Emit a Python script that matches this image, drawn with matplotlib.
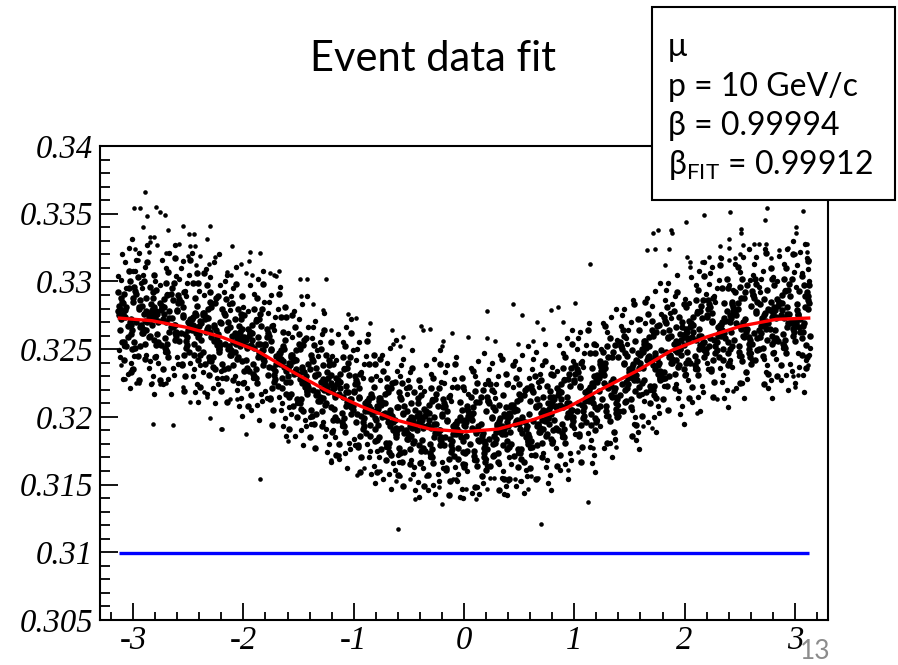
import numpy as np
import matplotlib
matplotlib.use("Agg")
import matplotlib.pyplot as plt
from matplotlib.patches import Rectangle
from matplotlib.ticker import FixedLocator, MultipleLocator

# ---------------- data ----------------
# event points: x stored in units of 0.01 rad, y stored as 0.3 + v*1e-4
# one line per 0.2-wide slice of x; two passes over the dense band
EVENT_X = """
-313 -302 -309 -305 -314 -301 -307 -311 -303 -308 -300 -312 -304 -310 -306 -302
-297 -283 -291 -288 -299 -285 -294 -281 -289 -296 -286 -292 -300 -282 -293 -287 -298 -284 -290 -295 -281 -288 -294 -286
-265 -278 -272 -262 -269 -275 -267 -280 -263 -271 -277 -264 -273 -268 -261 -279 -270 -274 -266 -276 -262 -272 -269 -277
-257 -243 -251 -248 -259 -245 -254 -241 -249 -256 -246 -252 -260 -242 -253 -247 -258 -244 -250 -255 -241 -248 -254 -246
-225 -238 -232 -222 -229 -235 -227 -240 -223 -231 -237 -224 -233 -228 -221 -239 -230 -234 -226 -236 -222 -232 -229 -237
-217 -203 -211 -208 -219 -205 -214 -201 -209 -216 -206 -212 -220 -202 -213 -207 -218 -204 -210 -215 -201 -208 -214 -206
-185 -198 -192 -182 -189 -195 -187 -200 -183 -191 -197 -184 -193 -188 -181 -199 -190 -194 -186 -196 -182 -192 -189 -197
-177 -163 -171 -168 -179 -165 -174 -161 -169 -176 -166 -172 -180 -162 -173 -167 -178 -164 -170 -175 -161 -168 -174 -166
-145 -158 -152 -142 -149 -155 -147 -160 -143 -151 -157 -144 -153 -148 -141 -159 -150 -154 -146 -156 -142 -152 -149 -157
-137 -123 -131 -128 -139 -125 -134 -121 -129 -136 -126 -132 -140 -122 -133 -127 -138 -124 -130 -135 -121 -128 -134 -126
-105 -118 -112 -102 -109 -115 -107 -120 -103 -111 -117 -104 -113 -108 -101 -119 -110 -114 -106 -116 -102 -112 -109 -117
-97 -83 -91 -88 -99 -85 -94 -81 -89 -96 -86 -92 -100 -82 -93 -87 -98 -84 -90 -95 -81 -88 -94 -86
-65 -78 -72 -62 -69 -75 -67 -80 -63 -71 -77 -64 -73 -68 -61 -79 -70 -74 -66 -76 -62 -72 -69 -77
-57 -43 -51 -48 -59 -45 -54 -41 -49 -56 -46 -52 -60 -42 -53 -47 -58 -44 -50 -55 -41 -48 -54 -46
-25 -38 -32 -22 -29 -35 -27 -40 -23 -31 -37 -24 -33 -28 -21 -39 -30 -34 -26 -36 -22 -32 -29 -37
-17 -3 -11 -8 -19 -5 -14 -1 -9 -16 -6 -12 -20 -2 -13 -7 -18 -4 -10 -15 -1 -8 -14 -6
15 2 8 18 11 5 13 0 17 9 3 16 7 12 19 1 10 6 14 4 18 8 11 3
23 37 29 32 21 35 26 39 31 24 34 28 20 38 27 33 22 36 30 25 39 32 26 34
55 42 48 58 51 45 53 40 57 49 43 56 47 52 59 41 50 46 54 44 58 48 51 43
63 77 69 72 61 75 66 79 71 64 74 68 60 78 67 73 62 76 70 65 79 72 66 74
95 82 88 98 91 85 93 80 97 89 83 96 87 92 99 81 90 86 94 84 98 88 91 83
103 117 109 112 101 115 106 119 111 104 114 108 100 118 107 113 102 116 110 105 119 112 106 114
135 122 128 138 131 125 133 120 137 129 123 136 127 132 139 121 130 126 134 124 138 128 131 123
143 157 149 152 141 155 146 159 151 144 154 148 140 158 147 153 142 156 150 145 159 152 146 154
175 162 168 178 171 165 173 160 177 169 163 176 167 172 179 161 170 166 174 164 178 168 171 163
183 197 189 192 181 195 186 199 191 184 194 188 180 198 187 193 182 196 190 185 199 192 186 194
215 202 208 218 211 205 213 200 217 209 203 216 207 212 219 201 210 206 214 204 218 208 211 203
223 237 229 232 221 235 226 239 231 224 234 228 220 238 227 233 222 236 230 225 239 232 226 234
255 242 248 258 251 245 253 240 257 249 243 256 247 252 259 241 250 246 254 244 258 248 251 243
263 277 269 272 261 275 266 279 271 264 274 268 260 278 267 273 262 276 270 265 279 272 266 274
295 282 288 298 291 285 293 280 297 289 283 296 287 292 299 281 290 286 294 284 298 288 291 283
301 312 305 309 300 313 307 303 311 306 314 302 310 304 308 312
-309 -305 -313 -302 -307 -311 -303 -308 -312 -304 -301 -310 -306 -314 -302 -308
-289 -295 -283 -300 -292 -286 -297 -281 -288 -294 -284 -291 -299 -287 -282 -296 -290 -285 -298 -293 -281 -289 -295 -284
-273 -267 -279 -262 -270 -276 -264 -271 -278 -266 -261 -274 -269 -280 -263 -272 -277 -265 -268 -275 -262 -270 -279 -267
-249 -255 -243 -260 -252 -246 -257 -241 -248 -254 -244 -251 -259 -247 -242 -256 -250 -245 -258 -253 -241 -249 -255 -244
-233 -227 -239 -222 -230 -236 -224 -231 -238 -226 -221 -234 -229 -240 -223 -232 -237 -225 -228 -235 -222 -230 -239 -227
-209 -215 -203 -220 -212 -206 -217 -201 -208 -214 -204 -211 -219 -207 -202 -216 -210 -205 -218 -213 -201 -209 -215 -204
-193 -187 -199 -182 -190 -196 -184 -191 -198 -186 -181 -194 -189 -200 -183 -192 -197 -185 -188 -195 -182 -190 -199 -187
-169 -175 -163 -180 -172 -166 -177 -161 -168 -174 -164 -171 -179 -167 -162 -176 -170 -165 -178 -173 -161 -169 -175 -164
-153 -147 -159 -142 -150 -156 -144 -151 -158 -146 -141 -154 -149 -160 -143 -152 -157 -145 -148 -155 -142 -150 -159 -147
-129 -135 -123 -140 -132 -126 -137 -121 -128 -134 -124 -131 -139 -127 -122 -136 -130 -125 -138 -133 -121 -129 -135 -124
-113 -107 -119 -102 -110 -116 -104 -111 -118 -106 -101 -114 -109 -120 -103 -112 -117 -105 -108 -115 -102 -110 -119 -107
-89 -95 -83 -100 -92 -86 -97 -81 -88 -94 -84 -91 -99 -87 -82 -96 -90 -85 -98 -93 -81 -89 -95 -84
-73 -67 -79 -62 -70 -76 -64 -71 -78 -66 -61 -74 -69 -80 -63 -72 -77 -65 -68 -75 -62 -70 -79 -67
-49 -55 -43 -60 -52 -46 -57 -41 -48 -54 -44 -51 -59 -47 -42 -56 -50 -45 -58 -53 -41 -49 -55 -44
-33 -27 -39 -22 -30 -36 -24 -31 -38 -26 -21 -34 -29 -40 -23 -32 -37 -25 -28 -35 -22 -30 -39 -27
-9 -15 -3 -20 -12 -6 -17 -1 -8 -14 -4 -11 -19 -7 -2 -16 -10 -5 -18 -13 -1 -9 -15 -4
7 13 1 18 10 4 16 9 2 14 19 6 11 0 17 8 3 15 12 5 18 10 1 13
31 25 37 20 28 34 23 39 32 26 36 29 21 33 38 24 30 35 22 27 39 31 25 36
47 53 41 58 50 44 56 49 42 54 59 46 51 40 57 48 43 55 52 45 58 50 41 53
71 65 77 60 68 74 63 79 72 66 76 69 61 73 78 64 70 75 62 67 79 71 65 76
87 93 81 98 90 84 96 89 82 94 99 86 91 80 97 88 83 95 92 85 98 90 81 93
111 105 117 100 108 114 103 119 112 106 116 109 101 113 118 104 110 115 102 107 119 111 105 116
127 133 121 138 130 124 136 129 122 134 139 126 131 120 137 128 123 135 132 125 138 130 121 133
151 145 157 140 148 154 143 159 152 146 156 149 141 153 158 144 150 155 142 147 159 151 145 156
167 173 161 178 170 164 176 169 162 174 179 166 171 160 177 168 163 175 172 165 178 170 161 173
191 185 197 180 188 194 183 199 192 186 196 189 181 193 198 184 190 195 182 187 199 191 185 196
207 213 201 218 210 204 216 209 202 214 219 206 211 200 217 208 203 215 212 205 218 210 201 213
231 225 237 220 228 234 223 239 232 226 236 229 221 233 238 224 230 235 222 227 239 231 225 236
247 253 241 258 250 244 256 249 242 254 259 246 251 240 257 248 243 255 252 245 258 250 241 253
271 265 277 260 268 274 263 279 272 266 276 269 261 273 278 264 270 275 262 267 279 271 265 276
287 293 281 298 290 284 296 289 282 294 299 286 291 280 297 288 283 295 292 285 298 290 281 293
305 309 301 312 307 303 311 306 302 310 313 304 308 300 312 306
"""

EVENT_Y = """
275 268 284 259 292 250 279 272 300 242 288 264 308 255 281 233
270 279 262 288 255 296 266 275 243 303 259 282 235 292 268 314 251 272 300 227 281 264 286 277
273 261 281 268 290 253 278 244 299 258 271 286 235 307 263 294 249 282 266 227 317 276 254 270
262 275 253 269 284 246 292 259 266 238 299 251 278 306 230 272 256 288 264 281 242 316 219 274
264 257 273 248 281 239 268 261 289 231 277 253 297 244 270 222 285 263 235 306 250 266 259 275
254 263 246 272 239 280 250 259 227 287 243 266 219 276 252 298 235 256 284 211 265 248 270 261
254 242 262 249 271 234 259 225 280 239 252 267 216 288 244 275 230 263 247 208 298 257 235 251
237 250 228 244 259 221 267 234 241 213 274 226 253 281 205 247 231 263 239 256 217 291 194 249
233 226 242 217 250 208 237 230 258 200 246 222 266 213 239 191 254 232 204 275 219 235 228 244
220 229 212 238 205 246 216 225 193 253 209 232 185 242 218 264 201 222 250 177 231 214 236 227
218 206 226 213 235 198 223 189 244 203 216 231 180 252 208 239 194 227 211 172 262 221 199 215
202 215 193 209 224 186 232 199 206 178 239 191 218 246 170 212 196 228 204 221 182 256 159 214
201 194 210 185 218 176 205 198 226 168 214 190 234 181 207 159 222 200 172 243 187 203 196 212
192 201 184 210 177 218 188 197 165 225 181 204 157 214 190 236 173 194 222 149 203 186 208 199
195 183 203 190 212 175 200 166 221 180 193 208 157 229 185 216 171 204 188 149 239 198 176 192
185 198 176 192 207 169 215 182 189 161 222 174 201 229 153 195 179 211 187 204 165 239 142 197
195 186 203 170 211 180 190 163 220 175 206 156 198 225 167 193 148 215 182 201 173 234 188 208
184 201 189 209 176 216 180 196 167 224 187 205 161 232 172 199 212 154 193 220 182 146 207 243
196 189 205 180 213 171 200 193 221 163 209 185 229 176 202 154 217 195 167 238 182 198 191 207
197 206 189 215 182 223 193 202 170 230 186 209 162 219 195 241 178 199 227 154 208 191 213 204
210 198 218 205 227 190 215 181 236 195 208 223 172 244 200 231 186 219 203 164 254 213 191 207
210 223 201 217 232 194 240 207 214 186 247 199 226 254 178 220 204 236 212 229 190 264 167 222
228 219 236 203 244 213 223 196 253 208 239 189 231 258 200 226 181 248 215 234 206 267 221 241
224 241 229 249 216 256 220 236 207 264 227 245 201 272 212 239 252 194 233 260 222 186 247 283
243 236 252 227 260 218 247 240 268 210 256 232 276 223 249 201 264 242 214 285 229 245 238 254
248 257 240 266 233 274 244 253 221 281 237 260 213 270 246 292 229 250 278 205 259 242 264 255
260 248 268 255 277 240 265 231 286 245 258 273 222 294 250 281 236 269 253 214 304 263 241 257
258 271 249 265 280 242 288 255 262 234 295 247 274 302 226 268 252 284 260 277 238 312 215 270
272 263 280 247 288 257 267 240 297 252 283 233 275 302 244 270 225 292 259 278 250 311 265 285
262 279 267 287 254 294 258 274 245 302 265 283 239 310 250 277 290 232 271 298 260 224 285 321
276 264 284 271 293 256 281 247 302 261 274 289 238 310 266 297 252 285 269 230 320 279 257 273
271 280 263 289 256 297 267 276 244 304 260 283 236 293 269 315
276 267 282 261 274 288 270 255 280 295 264 285 252 278 272 291
271 280 268 285 262 274 291 257 278 252 283 265 296 270 288 245 276 260 293 267 305 254 281 272
272 263 278 257 270 284 266 251 276 291 260 281 248 274 268 287 255 295 244 279 262 299 253 273
265 274 262 279 256 268 285 251 272 246 277 259 290 264 282 239 270 254 287 261 299 248 275 266
265 256 271 250 263 277 259 244 269 284 253 274 241 267 261 280 248 288 237 272 255 292 246 266
255 264 252 269 246 258 275 241 262 236 267 249 280 254 272 229 260 244 277 251 289 238 265 256
253 244 259 238 251 265 247 232 257 272 241 262 229 255 249 268 236 276 225 260 243 280 234 254
240 249 237 254 231 243 260 226 247 221 252 234 265 239 257 214 245 229 262 236 274 223 250 241
234 225 240 219 232 246 228 213 238 253 222 243 210 236 230 249 217 257 206 241 224 261 215 235
221 230 218 235 212 224 241 207 228 202 233 215 246 220 238 195 226 210 243 217 255 204 231 222
217 208 223 202 215 229 211 196 221 236 205 226 193 219 213 232 200 240 189 224 207 244 198 218
205 214 202 219 196 208 225 191 212 186 217 199 230 204 222 179 210 194 227 201 239 188 215 206
202 193 208 187 200 214 196 181 206 221 190 211 178 204 198 217 185 225 174 209 192 229 183 203
193 202 190 207 184 196 213 179 200 174 205 187 218 192 210 167 198 182 215 189 227 176 203 194
194 185 200 179 192 206 188 173 198 213 182 203 170 196 190 209 177 217 166 201 184 221 175 195
188 197 185 202 179 191 208 174 195 169 200 182 213 187 205 162 193 177 210 184 222 171 198 189
192 183 198 177 190 204 186 171 196 211 180 201 168 194 188 207 175 215 164 199 182 219 173 193
190 199 187 204 181 193 210 176 197 171 202 184 215 189 207 164 195 179 212 186 224 173 200 191
197 188 203 182 195 209 191 176 201 216 185 206 173 199 193 212 180 220 169 204 187 224 178 198
198 207 195 212 189 201 218 184 205 179 210 192 223 197 215 172 203 187 220 194 232 181 208 199
209 200 215 194 207 221 203 188 213 228 197 218 185 211 205 224 192 232 181 216 199 236 190 210
213 222 210 227 204 216 233 199 220 194 225 207 238 212 230 187 218 202 235 209 247 196 223 214
225 216 231 210 223 237 219 204 229 244 213 234 201 227 221 240 208 248 197 232 215 252 206 226
230 239 227 244 221 233 250 216 237 211 242 224 255 229 247 204 235 219 252 226 264 213 240 231
244 235 250 229 242 256 238 223 248 263 232 253 220 246 240 259 227 267 216 251 234 271 225 245
249 258 246 263 240 252 269 235 256 230 261 243 274 248 266 223 254 238 271 245 283 232 259 250
259 250 265 244 257 271 253 238 263 278 247 268 235 261 255 274 242 282 231 266 249 286 240 260
261 270 258 275 252 264 281 247 268 242 273 255 286 260 278 235 266 250 283 257 295 244 271 262
269 260 275 254 267 281 263 248 273 288 257 278 245 271 265 284 252 292 241 276 259 296 250 270
268 277 265 282 259 271 288 254 275 249 280 262 293 267 285 242 273 257 290 264 302 251 278 269
275 266 281 260 273 287 269 254 279 294 263 284 251 277 271 290 258 298 247 282 265 302 256 276
272 281 269 286 263 275 292 258 279 253 284 266 297 271 289 246
"""

# wider halo around the band, same units, one line per slice
HALO_X = """
-311 -302 -307 -313 -304 -309 -300 -312 -306 -301 -310 -303 -314 -308 -301 -305
-288 -298 -282 -292 -285 -295 -300 -289 -281 -293 -286 -297 -284 -291 -299 -287
-276 -264 -270 -279 -267 -273 -261 -277 -269 -263 -274 -266 -280 -271 -262 -268
-248 -258 -242 -252 -245 -255 -260 -249 -241 -253 -246 -257 -244 -251 -259 -247
-236 -224 -230 -239 -227 -233 -221 -237 -229 -223 -234 -226 -240 -231 -222 -228
-208 -218 -202 -212 -205 -215 -220 -209 -201 -213 -206 -217 -204 -211 -219 -207
-196 -184 -190 -199 -187 -193 -181 -197 -189 -183 -194 -186 -200 -191 -182 -188
-168 -178 -162 -172 -165 -175 -180 -169 -161 -173 -166 -177 -164 -171 -179 -167
-156 -144 -150 -159 -147 -153 -141 -157 -149 -143 -154 -146 -160 -151 -142 -148
-128 -138 -122 -132 -125 -135 -140 -129 -121 -133 -126 -137 -124 -131 -139 -127
-116 -104 -110 -119 -107 -113 -101 -117 -109 -103 -114 -106 -120 -111 -102 -108
-88 -98 -82 -92 -85 -95 -100 -89 -81 -93 -86 -97 -84 -91 -99 -87
-76 -64 -70 -79 -67 -73 -61 -77 -69 -63 -74 -66 -80 -71 -62 -68
-48 -58 -42 -52 -45 -55 -60 -49 -41 -53 -46 -57 -44 -51 -59 -47
-36 -24 -30 -39 -27 -33 -21 -37 -29 -23 -34 -26 -40 -31 -22 -28
-8 -18 -2 -12 -5 -15 -20 -9 -1 -13 -6 -17 -4 -11 -19 -7
4 16 10 1 13 7 19 3 11 17 6 14 0 9 18 12
32 22 38 28 35 25 20 31 39 27 34 23 36 29 21 33
44 56 50 41 53 47 59 43 51 57 46 54 40 49 58 52
72 62 78 68 75 65 60 71 79 67 74 63 76 69 61 73
84 96 90 81 93 87 99 83 91 97 86 94 80 89 98 92
112 102 118 108 115 105 100 111 119 107 114 103 116 109 101 113
124 136 130 121 133 127 139 123 131 137 126 134 120 129 138 132
152 142 158 148 155 145 140 151 159 147 154 143 156 149 141 153
164 176 170 161 173 167 179 163 171 177 166 174 160 169 178 172
192 182 198 188 195 185 180 191 199 187 194 183 196 189 181 193
204 216 210 201 213 207 219 203 211 217 206 214 200 209 218 212
232 222 238 228 235 225 220 231 239 227 234 223 236 229 221 233
244 256 250 241 253 247 259 243 251 257 246 254 240 249 258 252
272 262 278 268 275 265 260 271 279 267 274 263 276 269 261 273
284 296 290 281 293 287 299 283 291 297 286 294 280 289 298 292
303 312 307 301 310 305 314 302 308 313 304 311 300 306 313 309
"""

HALO_Y = """
301 240 314 249 325 228 308 244 295 235 320 221 304 252 331 232
246 308 230 295 241 321 250 311 217 299 236 316 224 305 245 327
297 236 310 245 321 224 304 240 291 231 316 217 300 248 327 228
240 302 224 289 235 315 244 305 211 293 230 310 218 299 239 321
290 229 303 238 314 217 297 233 284 224 309 210 293 241 320 221
230 292 214 279 225 305 234 295 201 283 220 300 208 289 229 311
278 217 291 226 302 205 285 221 272 212 297 198 281 229 308 209
215 277 199 264 210 290 219 280 186 268 205 285 193 274 214 296
259 198 272 207 283 186 266 202 253 193 278 179 262 210 289 190
196 258 180 245 191 271 200 261 167 249 186 266 174 255 195 277
242 181 255 190 266 169 249 185 236 176 261 162 245 193 272 173
180 242 164 229 175 255 184 245 151 233 170 250 158 239 179 261
227 166 240 175 251 154 234 170 221 161 246 147 230 178 257 158
168 230 152 217 163 243 172 233 141 221 158 238 146 227 167 249
219 158 232 167 243 146 226 162 213 153 238 143 222 170 249 150
163 225 147 212 158 238 167 228 140 216 153 233 141 222 162 244
217 156 230 165 241 144 224 160 211 151 236 143 220 168 247 148
165 227 149 214 160 240 169 230 142 218 155 235 143 224 164 246
222 161 235 170 246 149 229 165 216 156 241 144 225 173 252 153
173 235 157 222 168 248 177 238 146 226 163 243 151 232 172 254
234 173 247 182 258 161 241 177 228 168 253 154 237 185 264 165
188 250 172 237 183 263 192 253 159 241 178 258 166 247 187 269
250 189 263 198 274 177 257 193 244 184 269 170 253 201 280 181
205 267 189 254 200 280 209 270 176 258 195 275 183 264 204 286
269 208 282 217 293 196 276 212 263 203 288 189 272 220 299 200
224 286 208 273 219 299 228 289 195 277 214 294 202 283 223 305
284 223 297 232 308 211 291 227 278 218 303 204 287 235 314 215
236 298 220 285 231 311 240 301 207 289 226 306 214 295 235 317
294 233 307 242 318 221 301 237 288 228 313 214 297 245 324 225
243 305 227 292 238 318 247 308 214 296 233 313 221 302 242 324
300 239 313 248 324 227 307 243 294 234 319 220 303 251 330 231
247 309 231 296 242 322 251 312 218 300 237 317 225 306 246 328
"""

# sparse points, read one by one: (x*100, (y-0.3)*1e4)
SPARSE_UPPER_LEFT = [
    (-289, 366), (-299, 354), (-294, 354), (-279, 355), (-276, 351), (-271, 349),
    (-287, 348), (-291, 340), (-268, 338), (-255, 341), (-230, 341), (-249, 335),
    (-245, 335), (-233, 331), (-285, 333), (-281, 333), (-285, 329), (-258, 328),
    (-278, 327), (-210, 326), (-248, 326), (-244, 326), (-298, 324), (-286, 322),
    (-270, 321), (-194, 322), (-185, 321), (-250, 319), (-239, 319), (-226, 318),
    (-296, 316), (-202, 313), (-195, 315), (-243, 312), (-231, 313), (-168, 308),
    (-176, 306), (-172, 305), (-170, 304), (-149, 302), (-142, 302), (-125, 302),
    (-215, 307), (-211, 305), (-198, 306), (-192, 305),
]
SPARSE_UPPER_RIGHT = [
    (275, 354), (307, 352), (241, 351), (218, 349), (201, 344), (273, 345),
    (171, 336), (176, 338), (188, 338), (189, 336), (251, 339), (251, 336),
    (301, 340), (301, 336), (240, 331), (114, 313), (166, 323), (173, 324),
    (186, 324), (182, 312), (202, 318), (232, 326), (240, 325), (253, 327),
    (263, 328), (267, 328), (274, 328), (311, 328), (294, 325), (286, 323),
    (278, 317), (205, 314), (205, 311), (216, 314), (222, 318), (232, 318),
    (240, 316), (246, 317), (250, 320), (300, 320), (311, 322), (313, 316),
]
SPARSE_UPPER_MIDDLE = [
    (44, 283), (21, 278), (101, 284), (79, 279), (85, 281), (53, 275),
    (66, 270), (72, 265), (90, 270), (-65, 264), (-39, 267), (-37, 264),
    (-31, 265), (-11, 262), (4, 259), (28, 256), (21, 258), (-55, 259),
    (-58, 252), (-64, 254), (-19, 256), (-20, 252), (49, 254), (63, 256),
    (-148, 289), (-137, 283), (-98, 273), (-121, 264), (-85, 269),
    (-128, 279), (-105, 276),
]
SPARSE_LOWER = [
    (-60, 117), (-44, 139), (-20, 136), (11, 139), (70, 121), (112, 137),
    (58, 147), (21, 147), (2, 147), (-23, 148), (-97, 157), (-121, 168),
    (-113, 172), (-10, 154), (-7, 154), (-62, 153), (-58, 156), (-49, 154),
    (-34, 156), (24, 155), (27, 155), (40, 153), (46, 154), (51, 153),
    (61, 156), (67, 155), (-76, 160), (-91, 162), (94, 161), (103, 174),
    (84, 164),
    (138, 178), (137, 183), (117, 177), (211, 203), (229, 213), (244, 219),
    (300, 222), (312, 238), (298, 230), (303, 231), (170, 192), (162, 193),
    (-282, 195), (-264, 194), (-230, 199), (-220, 191), (-198, 187), (-185, 154),
    (-160, 182), (-248, 211), (-295, 225), (-283, 225), (-276, 224), (-270, 225),
    (-255, 222), (-233, 215), (-236, 218), (-212, 213), (-206, 213), (-307, 228),
    (-297, 225), (-311, 238), (-219, 191),
]

# fitted curve (red)
FIT_X = [-3.14, -2.83, -2.51, -2.20, -1.88, -1.57, -1.26, -0.94, -0.63, -0.31, 0.0,
         0.31, 0.63, 0.94, 1.26, 1.57, 1.88, 2.20, 2.51, 2.83, 3.14]
FIT_Y = [0.3273, 0.3271, 0.3266, 0.3259, 0.3249, 0.3234, 0.3220, 0.3208, 0.3198, 0.3191, 0.3189,
         0.3191, 0.3198, 0.3207, 0.3221, 0.3234, 0.3249, 0.3259, 0.3267, 0.3272, 0.3273]

# reference level (blue)
BASE_X = [-3.13, 3.13]
BASE_Y = [0.30993, 0.30993]

XTICKS = [-3, -2, -1, 0, 1, 2, 3]
XTICK_LABELS = ["-3", "-2", "-1", "0", "1", "2", "3"]
YTICKS = [0.305, 0.31, 0.315, 0.32, 0.325, 0.33, 0.335, 0.34]
YTICK_LABELS = ["0.305", "0.31", "0.315", "0.32", "0.325", "0.33", "0.335", "0.34"]

TITLE = "Event data fit"
INFO_LINES = ["μ", "p = 10 GeV/c", "β = 0.99994", r"$\mathregular{β_{FIT}}$ = 0.99912"]
PAGE = "13"

# ---------------- assemble points ----------------
def parse(block):
    return [list(map(int, ln.split())) for ln in block.strip().splitlines()]

def pair_blocks(bx, by):
    xs, ys = [], []
    for lx, ly in zip(parse(bx), parse(by)):
        n = min(len(lx), len(ly))
        xs += lx[:n]
        ys += ly[:n]
    return np.array(xs) / 100.0, 0.3 + np.array(ys) * 1e-4

cx, cy = pair_blocks(EVENT_X, EVENT_Y)
hx, hy = pair_blocks(HALO_X, HALO_Y)

sp_x, sp_y = [], []
for grp in (SPARSE_UPPER_LEFT, SPARSE_UPPER_RIGHT, SPARSE_UPPER_MIDDLE, SPARSE_LOWER):
    sp_x += [p[0] for p in grp]
    sp_y += [p[1] for p in grp]
sx = np.array(sp_x) / 100.0
sy = 0.3 + np.array(sp_y) * 1e-4

# ---------------- figure ----------------
W, H = 898, 665
fig = plt.figure(figsize=(W / 100, H / 100), dpi=100)
fig.patch.set_facecolor("white")

ax = fig.add_axes([100 / W, 45 / H, 728 / W, 474 / H])
ax.plot(cx, cy, "o", ms=4.7, color="black", mew=0, zorder=2)
ax.plot(hx, hy, "o", ms=3.9, color="black", mew=0, zorder=2)
ax.plot(sx, sy, "o", ms=3.3, color="black", mew=0, zorder=2)
ax.plot(FIT_X, FIT_Y, color="#ff0000", lw=2.4, zorder=3, solid_capstyle="butt")
ax.plot(BASE_X, BASE_Y, color="#0000ff", lw=2.4, zorder=3, solid_capstyle="butt")

ax.set_xlim(-3.3, 3.3)
ax.set_ylim(0.305, 0.34)
ax.xaxis.set_major_locator(FixedLocator(XTICKS))
ax.xaxis.set_minor_locator(MultipleLocator(0.2))
ax.yaxis.set_major_locator(FixedLocator(YTICKS))
ax.yaxis.set_minor_locator(MultipleLocator(0.001))
ax.set_xticklabels(XTICK_LABELS)
ax.set_yticklabels(YTICK_LABELS)

for lab in ax.get_xticklabels() + ax.get_yticklabels():
    lab.set_fontfamily("Liberation Serif")
    lab.set_fontstyle("italic")
    lab.set_fontsize(23.5)

ax.tick_params(axis="y", which="major", direction="in", length=13, width=1.3, pad=5, left=True, right=False)
ax.tick_params(axis="y", which="minor", direction="in", length=7, width=1.3, left=True, right=False)
ax.tick_params(axis="x", which="major", direction="in", length=12, width=1.3, pad=4, bottom=True, top=False)
ax.tick_params(axis="x", which="minor", direction="in", length=6, width=1.3, bottom=True, top=False)
for sp in ax.spines.values():
    sp.set_linewidth(1.5)

sans = ["Lato", "Noto Sans", "DejaVu Sans"]
fig.text(433 / W, (H - 70.7) / H, TITLE, ha="center", va="baseline",
         fontsize=30, family=sans, color="black")

box = Rectangle((652 / W, (H - 200) / H), 243 / W, 193 / H, transform=fig.transFigure,
                facecolor="white", edgecolor="black", lw=1.5, zorder=5)
fig.add_artist(box)
baselines = [56, 95.5, 135, 174.5]
for txt, b in zip(INFO_LINES, baselines):
    fig.text(668 / W, (H - b) / H, txt, ha="left", va="baseline", fontsize=23,
             family=sans, color="black", zorder=6)

fig.text(815 / W, (H - 659) / H, PAGE, ha="center", va="baseline", fontsize=19,
         family=sans, color="#8c8c8c")

fig.savefig("out.png", dpi=100)
